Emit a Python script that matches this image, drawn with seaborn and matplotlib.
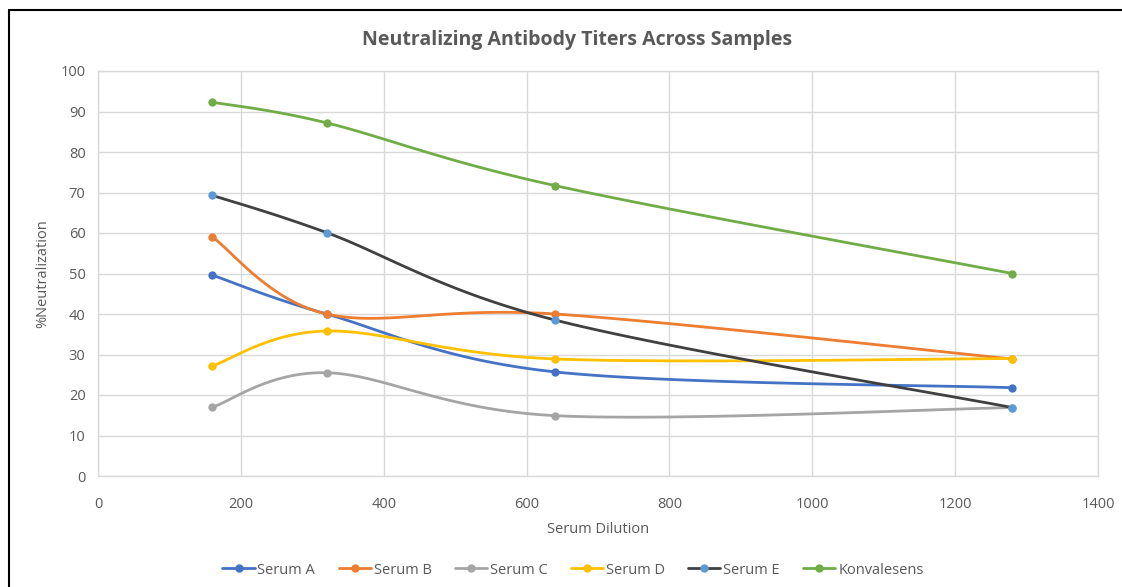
import numpy as np
import pandas as pd
import matplotlib
matplotlib.use("Agg")
import matplotlib.pyplot as plt
import seaborn as sns
from matplotlib.lines import Line2D

dilution = [160, 320, 640, 1280]
serum_a = [49.6, 40.0, 25.7, 21.8]
serum_b = [59.0, 40.0, 40.0, 28.9]
serum_c = [17.0, 25.5, 14.9, 16.9]
serum_d = [27.2, 35.8, 28.9, 29.0]
serum_e = [69.3, 60.1, 38.5, 16.9]
konvalesens = [92.3, 87.2, 71.7, 50.0]

series_names = ["Serum A", "Serum B", "Serum C", "Serum D", "Serum E", "Konvalesens"]
series_values = [serum_a, serum_b, serum_c, serum_d, serum_e, konvalesens]
line_colors = ["#4472C4", "#ED7D31", "#A5A5A5", "#FFC000", "#404040", "#70AD47"]
marker_colors = ["#4472C4", "#ED7D31", "#A5A5A5", "#FFC000", "#5B9BD5", "#70AD47"]

sns.set_theme(style="white")
plt.rcParams['font.family'] = ['Open Sans', 'DejaVu Sans']

W, H = 1122, 587
fig = plt.figure(figsize=(W / 100, H / 100), dpi=100)
ax = fig.add_axes([98 / W, 1 - 476 / H, (1098 - 98) / W, (476 - 71) / H])

# pixel scale for Excel-like smoothing
sx = 1000 / 1400.0
sy = 405 / 100.0


def smooth(xs, ys, n=40):
    P = np.column_stack([np.array(xs, float) * sx, np.array(ys, float) * sy])
    pts = []
    m = len(P)
    for i in range(m - 1):
        p0 = P[i - 1] if i > 0 else P[i]
        p1 = P[i]
        p2 = P[i + 1]
        p3 = P[i + 2] if i + 2 < m else P[i + 1]
        c1 = p1 + (p2 - p0) / 6.0
        c2 = p2 - (p3 - p1) / 6.0
        t = np.linspace(0, 1, n, endpoint=(i == m - 2))[:, None]
        b = ((1 - t) ** 3) * p1 + 3 * ((1 - t) ** 2) * t * c1 + 3 * (1 - t) * t ** 2 * c2 + t ** 3 * p2
        pts.append(b)
    B = np.vstack(pts)
    return B[:, 0] / sx, B[:, 1] / sy


rows = []
for name, vals in zip(series_names, series_values):
    xs, ys = smooth(dilution, vals)
    for k, (xv, yv) in enumerate(zip(xs, ys)):
        rows.append({"series": name, "x": xv, "y": yv, "order": k})
curve_df = pd.DataFrame(rows)
pts_df = pd.DataFrame([{"series": n, "x": d, "y": v}
                       for n, vals in zip(series_names, series_values)
                       for d, v in zip(dilution, vals)])

for name, lc, mc in zip(series_names, line_colors, marker_colors):
    sub = curve_df[curve_df.series == name]
    sns.lineplot(data=sub, x="x", y="y", ax=ax, color=lc, linewidth=2.0,
                 sort=False, estimator=None, legend=False, zorder=3)
    ps = pts_df[pts_df.series == name]
    sns.scatterplot(data=ps, x="x", y="y", ax=ax, color=mc, s=36,
                    edgecolor=mc, linewidth=0, legend=False, zorder=4)

ax.set_xlim(0, 1400)
ax.set_ylim(0, 100)
ax.set_xticks(range(0, 1401, 200))
ax.set_yticks(range(0, 101, 10))
ax.grid(True, color="#D9D9D9", linewidth=1.0)
ax.set_axisbelow(True)
for s in ax.spines.values():
    s.set_color("#D9D9D9")
    s.set_linewidth(1.0)
ax.tick_params(axis="both", colors="#595959", labelsize=10.5, length=0)
ax.tick_params(axis="x", pad=15)
ax.tick_params(axis="y", pad=9)
ax.set_xlabel("Serum Dilution", color="#595959", fontsize=10.5, labelpad=7)
ax.set_ylabel("%Neutralization", color="#595959", fontsize=10.5, labelpad=7)
fig.text(577 / W, 1 - 40 / H, "Neutralizing Antibody Titers Across Samples",
         ha="center", va="center", fontsize=14, color="#595959", fontweight="bold")

handles = [Line2D([0], [0], color=lc, lw=2, marker="o", markersize=5,
                  markerfacecolor=mc, markeredgecolor=mc)
           for lc, mc in zip(line_colors, marker_colors)]
fig.legend(handles, series_names, loc="center", bbox_to_anchor=(573 / W, 1 - 570 / H),
           ncol=6, frameon=False, fontsize=10.5, handlelength=2.2, handletextpad=0.2,
           columnspacing=1.6, labelcolor="#595959")

# screenshot frame lines (top and left)
fig.add_artist(Line2D([9 / W, 1.0], [1 - 10 / H, 1 - 10 / H], color="black", lw=1.5,
                      transform=fig.transFigure))
fig.add_artist(Line2D([9 / W, 9 / W], [0, 1 - 10 / H], color="black", lw=1.5,
                      transform=fig.transFigure))

fig.savefig("out.png", dpi=100, facecolor="white")
